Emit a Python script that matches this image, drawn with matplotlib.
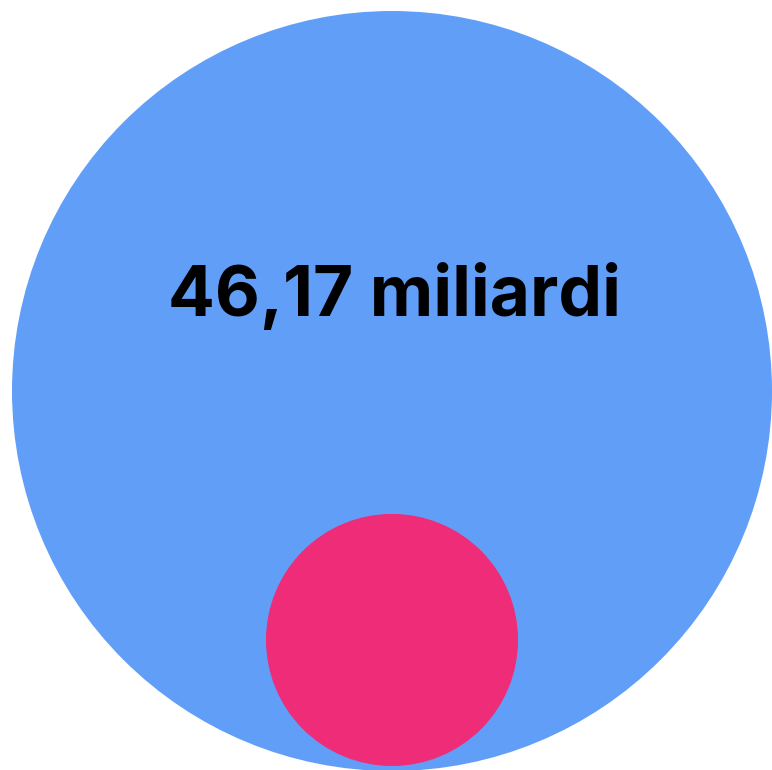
import numpy as np
import matplotlib.pyplot as plt
from matplotlib.patches import Circle

# Data (billions)
labels = ['Totale', 'Parte']
values = [46.17, 5.08]
label_text = '46,17 miliardi'
colors = ['#619ef8', '#ef2c77']

# Layout in pixel units
W, H = 772, 770
big_r = 380
cx, cy = 392, 391
radii = [big_r * np.sqrt(v / values[0]) for v in values]

fig = plt.figure(figsize=(W / 100, H / 100), dpi=100)
ax = fig.add_axes([0, 0, 1, 1])
ax.set_xlim(0, W)
ax.set_ylim(H, 0)
ax.set_aspect('equal')
ax.axis('off')

# big circle
ax.add_patch(Circle((cx, cy), radii[0], color=colors[0], lw=0))
# small circle sits near the bottom of the big one
small_cy = cy + radii[0] - radii[1] - 5
ax.add_patch(Circle((cx, small_cy), radii[1], color=colors[1], lw=0))

ax.text(cx + 2, 296, label_text, ha='center', va='center',
        fontsize=50, fontweight='bold', family=['Inter', 'DejaVu Sans'], color='black')

fig.savefig('out.png', dpi=100)
